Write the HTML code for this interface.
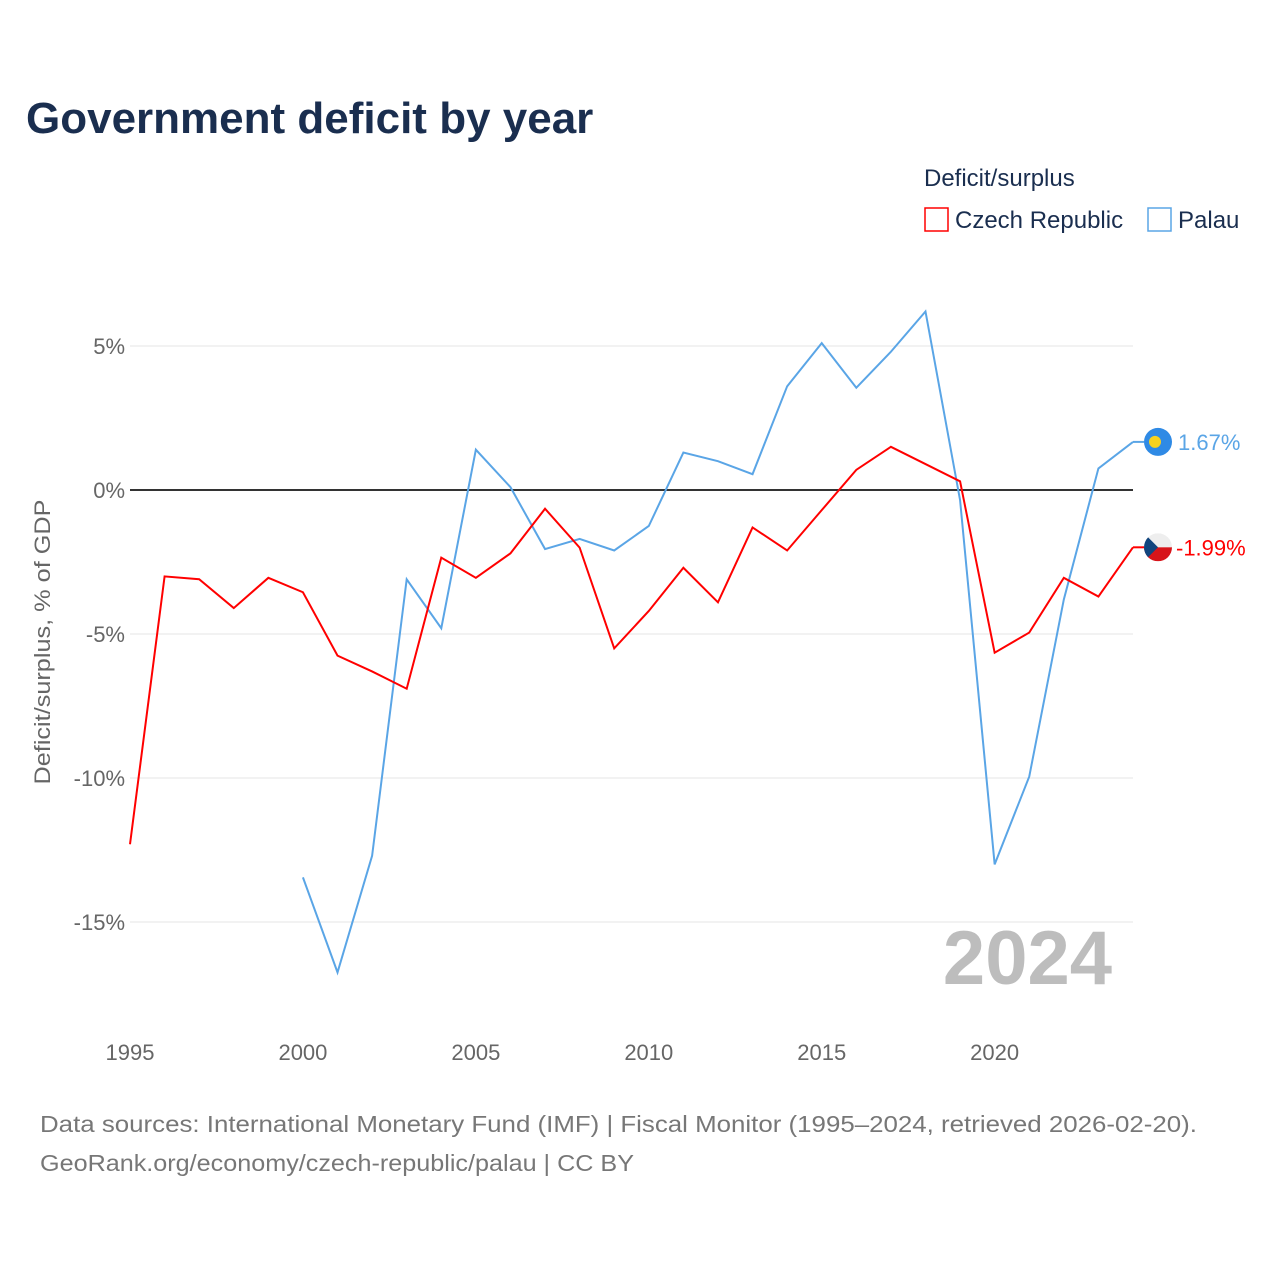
<!DOCTYPE html>
<html><head><meta charset="utf-8"><style>
body{margin:0;background:#fff;width:1280px;height:1280px;overflow:hidden;font-family:"Liberation Sans",sans-serif}
</style></head><body>
<svg id="chart" width="1280" height="1280" xmlns="http://www.w3.org/2000/svg"></svg>
<script>
const years=[1995,1996,1997,1998,1999,2000,2001,2002,2003,2004,2005,2006,2007,2008,2009,2010,2011,2012,2013,2014,2015,2016,2017,2018,2019,2020,2021,2022,2023,2024];
const czech=[-12.3,-3.0,-3.1,-4.1,-3.05,-3.55,-5.75,-6.3,-6.9,-2.35,-3.05,-2.2,-0.65,-2.0,-5.5,-4.2,-2.7,-3.9,-1.3,-2.1,-0.7,0.7,1.5,0.9,0.3,-5.65,-4.95,-3.05,-3.7,-1.99];
const palauYears=[2000,2001,2002,2003,2004,2005,2006,2007,2008,2009,2010,2011,2012,2013,2014,2015,2016,2017,2018,2019,2020,2021,2022,2023,2024];
const palau=[-13.45,-16.75,-12.7,-3.1,-4.8,1.4,0.1,-2.05,-1.7,-2.1,-1.25,1.3,1.0,0.55,3.6,5.1,3.55,4.8,6.2,-0.35,-13.0,-9.95,-3.8,0.75,1.67];
const yTicks=[5,0,-5,-10,-15];
const yLabels=["5%","0%","-5%","-10%","-15%"];
const xTicks=[1995,2000,2005,2010,2015,2020];

const svg=document.getElementById('chart');
const NS='http://www.w3.org/2000/svg';
const X=v=>130+(v-1995)*(1133-130)/29;
const Y=v=>490-v*28.8;
function mk(tag,attrs,text){const e=document.createElementNS(NS,tag);for(const k in attrs)e.setAttribute(k,attrs[k]);if(text!==undefined)e.textContent=text;svg.appendChild(e);return e;}

let t=mk('text',{x:26,y:133,'font-size':44,'font-weight':'bold',fill:'#1a2e4f'},'Government deficit by year');



yTicks.forEach((v,i)=>{
  let g=mk('line',{x1:130,x2:1133,y1:Y(v),y2:Y(v),stroke:v===0?'#333':'#e6e6e6','stroke-width':v===0?2:1});
  
  
  let l=mk('text',{x:125,y:Y(v)+8,'font-size':22,fill:'#666','text-anchor':'end'},yLabels[i]);
  
  
});
xTicks.forEach(v=>{
  let l=mk('text',{x:X(v),y:1060,'font-size':22,fill:'#666','text-anchor':'middle'},String(v));
  
  
});
let yt=mk('text',{x:0,y:0,'font-size':22,fill:'#666','text-anchor':'middle',textLength:285,lengthAdjust:'spacingAndGlyphs',transform:'translate(50,642) rotate(-90)'},'Deficit/surplus, % of GDP');



let yr=mk('text',{x:1112,y:984,'font-size':76,'font-weight':'bold',fill:'#bdbdbd','text-anchor':'end'},'2024');



let pp=mk('polyline',{points:palauYears.map((y,i)=>X(y)+','+Y(palau[i])).join(' '),fill:'none',stroke:'#5aa5e6','stroke-width':2});


let cp=mk('polyline',{points:years.map((y,i)=>X(y)+','+Y(czech[i])).join(' '),fill:'none',stroke:'#f00','stroke-width':2});



const pl=palau[palau.length-1], cl=czech[czech.length-1];
mk('line',{x1:1133,x2:1144,y1:Y(cl),y2:Y(cl),stroke:'#f00','stroke-width':2});
mk('line',{x1:1133,x2:1144,y1:Y(pl),y2:Y(pl),stroke:'#5aa5e6','stroke-width':2});
let pc=mk('circle',{cx:1158,cy:Y(pl),r:14,fill:'#2f8ae5'});


let pd=mk('circle',{cx:1155,cy:Y(pl),r:6,fill:'#f7d21e'});


let pt=mk('text',{x:1178,y:Y(pl)+8,'font-size':22,fill:'#5aa5e6'},pl.toFixed(2)+'%');


let cy0=Y(cl);
const defs=mk('defs',{});
const cpth=document.createElementNS(NS,'clipPath');cpth.setAttribute('id','czc');
const cc=document.createElementNS(NS,'circle');cc.setAttribute('cx',1158);cc.setAttribute('cy',cy0);cc.setAttribute('r',14);
cpth.appendChild(cc);defs.appendChild(cpth);
let cw=mk('rect',{x:1144,y:cy0-14,width:28,height:14,fill:'#eee','clip-path':'url(#czc)'});


let cr=mk('rect',{x:1144,y:cy0,width:28,height:14,fill:'#d7141a','clip-path':'url(#czc)'});


let cb=mk('path',{d:`M1144,${cy0-14} L1158,${cy0} L1144,${cy0+14} Z`,fill:'#11457e','clip-path':'url(#czc)'});


let ct=mk('text',{x:1176,y:cy0+8,'font-size':22,fill:'#f00'},cl.toFixed(2)+'%');



let lt=mk('text',{x:924,y:186,'font-size':24,fill:'#1a2e4f'},'Deficit/surplus');


let r1=mk('rect',{x:925,y:208,width:23,height:23,fill:'none',stroke:'#f00','stroke-width':1.5});


let l1=mk('text',{x:955,y:228,'font-size':24,fill:'#1a2e4f'},'Czech Republic');


let r2=mk('rect',{x:1148,y:208,width:23,height:23,fill:'none',stroke:'#5aa5e6','stroke-width':1.5});


let l2=mk('text',{x:1178,y:228,'font-size':24,fill:'#1a2e4f'},'Palau');



let s1=mk('text',{x:40,y:1132,'font-size':23,fill:'#777',textLength:1157,lengthAdjust:'spacingAndGlyphs'},'Data sources: International Monetary Fund (IMF) | Fiscal Monitor (1995–2024, retrieved 2026-02-20).');


let s2=mk('text',{x:40,y:1171,'font-size':23,fill:'#777',textLength:594,lengthAdjust:'spacingAndGlyphs'},'GeoRank.org/economy/czech-republic/palau | CC BY');


</script>
</body></html>
